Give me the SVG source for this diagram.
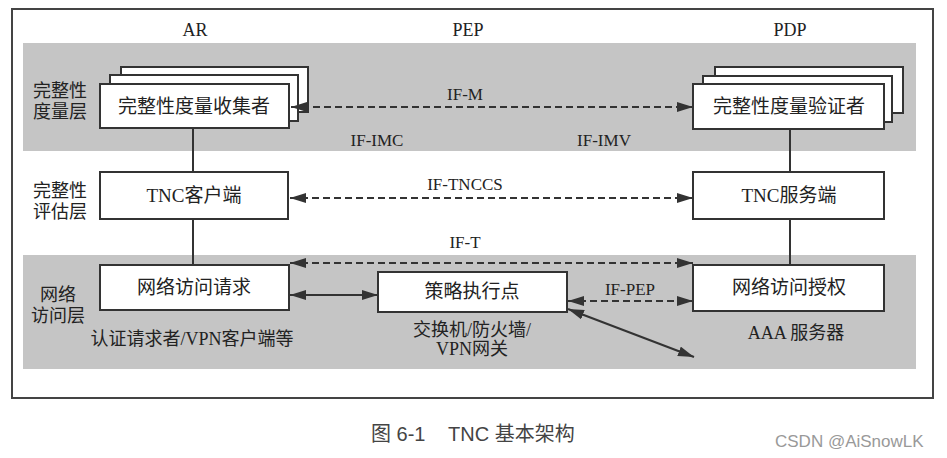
<svg xmlns="http://www.w3.org/2000/svg" width="947" height="458" viewBox="0 0 947 458">
<defs>
<marker id="ah" markerUnits="userSpaceOnUse" markerWidth="18" markerHeight="12" refX="16" refY="5" orient="auto-start-reverse">
<path d="M0,0 L16,5 L0,10 z" fill="#333"/>
</marker>
<style>
.box{fill:#fff;stroke:#333;stroke-width:2}
.band{fill:#c5c5c5}
.t{font-family:'Liberation Serif','Times New Roman','Noto Sans CJK SC',serif;font-size:18px;fill:#222;text-anchor:middle}
.bt{font-family:'Liberation Serif','Times New Roman','Noto Sans CJK SC',serif;font-size:19px;fill:#222;text-anchor:middle}
.lbl{font-family:'Liberation Serif','Times New Roman','Noto Sans CJK SC',serif;font-size:17px;fill:#222;text-anchor:middle}
.dash{stroke:#333;stroke-width:2;stroke-dasharray:7 4;fill:none}
.solid{stroke:#333;stroke-width:2;fill:none}
.cap{font-family:'Liberation Sans','Noto Sans CJK SC',sans-serif;font-size:20px;fill:#444}
.wm{font-family:'Liberation Sans',sans-serif;font-size:17px;fill:#999}
</style>
</defs>
<rect x="0" y="0" width="947" height="458" fill="#fff"/>
<rect x="12" y="9" width="921" height="389" fill="none" stroke="#444" stroke-width="2"/>
<rect class="band" x="23" y="43" width="893" height="108"/>
<rect class="band" x="23" y="255" width="893" height="114"/>

<g id="headers">
<text class="t" x="195" y="36">AR</text>
<text class="t" x="468" y="36">PEP</text>
<text class="t" x="790" y="36">PDP</text>
</g>
<g id="layer-labels">
<text class="t" x="60" y="97">完整性</text>
<text class="t" x="60" y="118">度量层</text>
<text class="t" x="60" y="197">完整性</text>
<text class="t" x="60" y="218">评估层</text>
<text class="t" x="58" y="301">网络</text>
<text class="t" x="58" y="322">访问层</text>
</g>

<g id="imc">
<rect class="box" x="121" y="67" width="187" height="45"/>
<rect class="box" x="110" y="75" width="188" height="46"/>
<rect class="box" x="100" y="84" width="189" height="44"/>
<text class="bt" x="194" y="113">完整性度量收集者</text>
</g>
<g id="imv">
<rect class="box" x="715" y="67" width="188" height="46"/>
<rect class="box" x="703" y="76" width="189" height="46"/>
<rect class="box" x="693" y="84" width="191" height="45"/>
<text class="bt" x="789" y="113">完整性度量验证者</text>
</g>
<g id="tnc-client">
<rect class="box" x="100" y="172" width="188" height="47"/>
<text class="bt" x="194" y="202">TNC客户端</text>
</g>
<g id="tnc-server">
<rect class="box" x="693" y="172" width="191" height="47"/>
<text class="bt" x="789" y="202">TNC服务端</text>
</g>
<g id="nar">
<rect class="box" x="100" y="265" width="189" height="45"/>
<text class="bt" x="194" y="294">网络访问请求</text>
<text class="t" x="192" y="345">认证请求者/VPN客户端等</text>
</g>
<g id="pep">
<rect class="box" x="378" y="272" width="189" height="40"/>
<text class="bt" x="472" y="298">策略执行点</text>
<text class="t" x="472" y="336">交换机/防火墙/</text>
<text class="t" x="472" y="355">VPN网关</text>
</g>
<g id="naa">
<rect class="box" x="693" y="265" width="191" height="46"/>
<text class="bt" x="789" y="294">网络访问授权</text>
<text class="t" x="796" y="339">AAA 服务器</text>
</g>

<g id="connectors">
<line class="solid" x1="193" y1="128" x2="193" y2="172"/>
<line class="solid" x1="193" y1="219" x2="193" y2="265"/>
<line class="solid" x1="790" y1="129" x2="790" y2="172"/>
<line class="solid" x1="790" y1="219" x2="790" y2="265"/>
<line class="dash" x1="291" y1="107" x2="693" y2="107" marker-start="url(#ah)" marker-end="url(#ah)"/>
<line class="dash" x1="290" y1="198" x2="693" y2="198" marker-start="url(#ah)" marker-end="url(#ah)"/>
<line class="dash" x1="290" y1="263" x2="693" y2="263" marker-start="url(#ah)" marker-end="url(#ah)"/>
<line class="solid" x1="290" y1="295" x2="378" y2="295" marker-start="url(#ah)" marker-end="url(#ah)"/>
<line class="dash" x1="568" y1="301" x2="693" y2="301" marker-start="url(#ah)" marker-end="url(#ah)"/>
<line class="solid" x1="568" y1="309" x2="694" y2="357" marker-start="url(#ah)" marker-end="url(#ah)"/>
<text class="lbl" x="465" y="100">IF-M</text>
<text class="lbl" x="377" y="146">IF-IMC</text>
<text class="lbl" x="604" y="146">IF-IMV</text>
<text class="lbl" x="465" y="190">IF-TNCCS</text>
<text class="lbl" x="465" y="248">IF-T</text>
<text class="lbl" x="630" y="295">IF-PEP</text>
</g>

<text class="cap" x="371" y="441">图 6-1<tspan x="448">TNC 基本架构</tspan></text>
<text class="wm" x="775" y="447">CSDN @AiSnowLK</text>
</svg>
